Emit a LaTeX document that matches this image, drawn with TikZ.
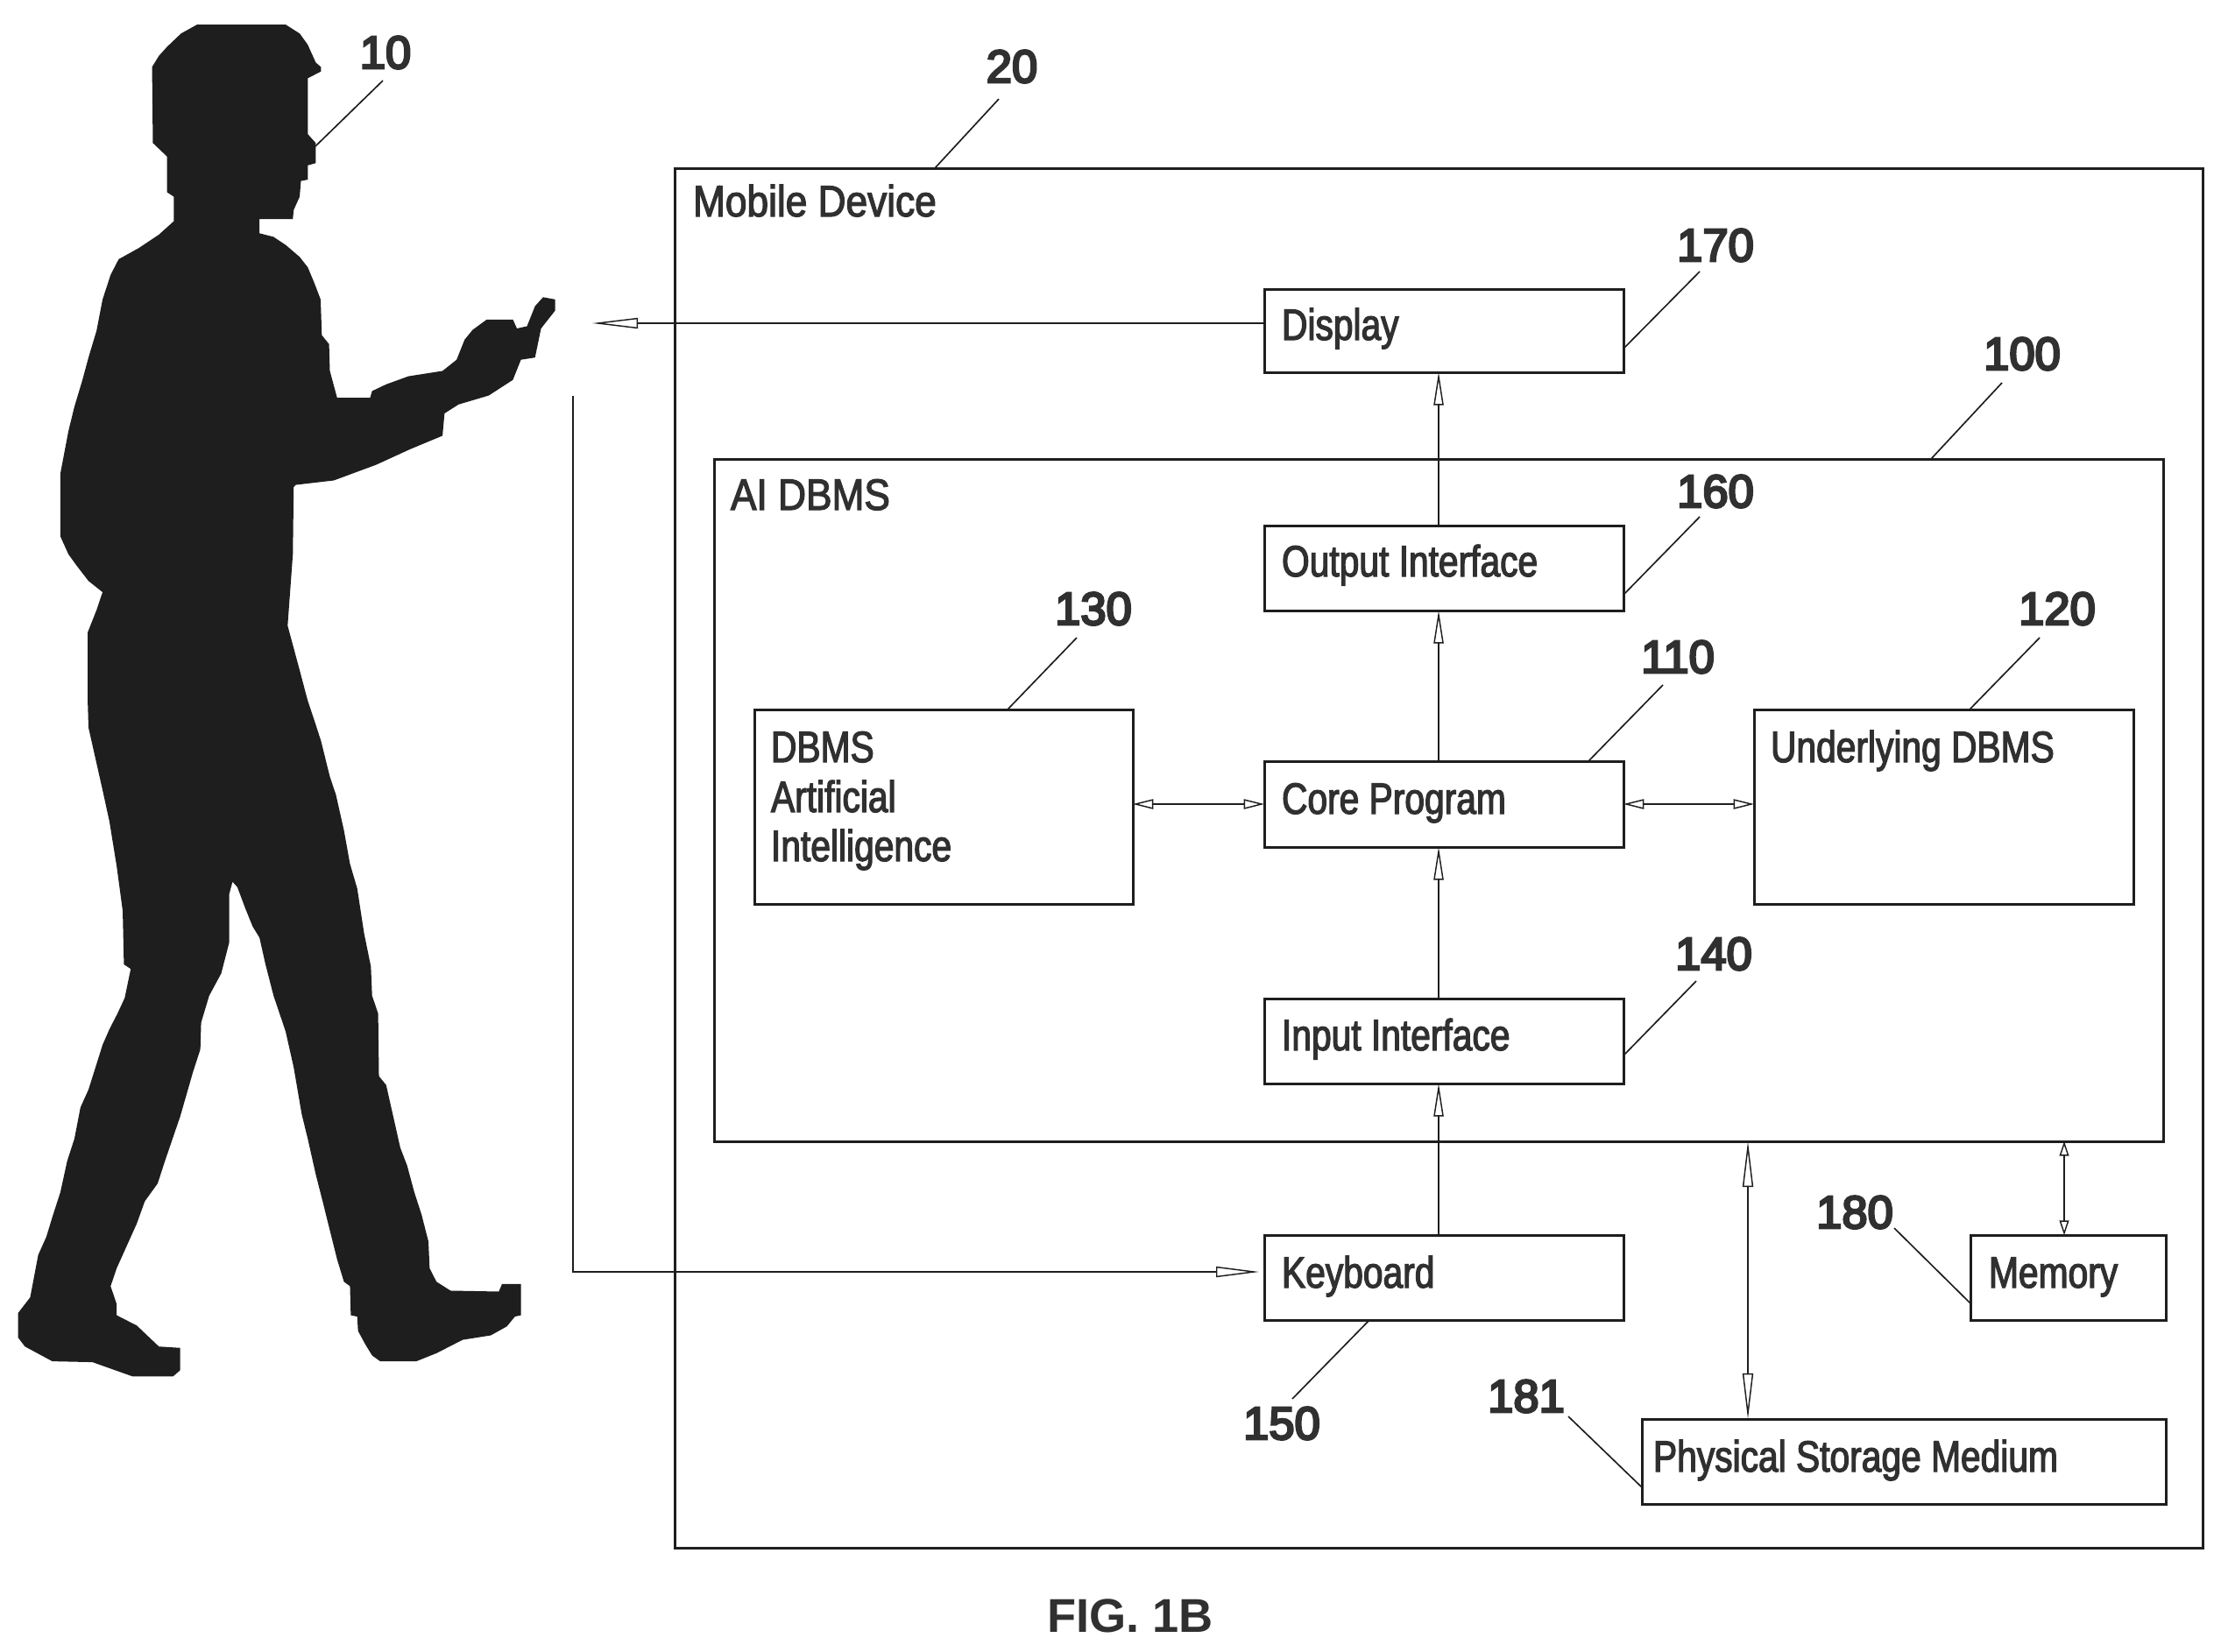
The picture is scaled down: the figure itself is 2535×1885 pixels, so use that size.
\documentclass[tikz,border=0pt]{standalone}
\usepackage{fontspec}
\setmainfont{Liberation Sans}
\newfontfamily\condfont[FakeStretch=0.815,FakeBold=2.5]{Liberation Sans}
\newfontfamily\widefont[FakeStretch=0.885,FakeBold=2.5]{Liberation Sans}
\newfontfamily\numfont[FakeBold=5]{Liberation Sans}
\usetikzlibrary{arrows.meta,calc}
\definecolor{ink}{HTML}{1E1E1E}
\definecolor{txt}{HTML}{303030}
\tikzset{
  boxst/.style={draw=ink,line width=0.72pt,fill=none,anchor=north west,inner sep=0pt,outer sep=0pt},
  lab/.style={anchor=base west,inner sep=0pt,outer sep=0pt,text=txt,font=\condfont\fontsize{12}{12}\selectfont},
  widelab/.style={lab,font=\widefont\fontsize{12}{12}\selectfont},
  num/.style={inner sep=0pt,outer sep=0pt,text=txt,font=\numfont\fontsize{12.6}{12.6}\selectfont},
  figlab/.style={inner sep=0pt,outer sep=0pt,text=txt,font=\bfseries\fontsize{13}{13}\selectfont},
  lead/.style={draw=ink,line width=0.4pt},
  conn/.style={draw=ink,line width=0.38pt},
  longtip/.tip={Triangle[open,fill=white,length=9pt,width=2.7pt,line width=0.35pt]},
  xltip/.tip={Triangle[open,fill=white,length=12.5pt,width=2.9pt,line width=0.35pt]},
  kbtip/.tip={Triangle[open,fill=white,length=11.8pt,width=2.9pt,line width=0.35pt]},
  shorttip/.tip={Triangle[open,fill=white,length=5.6pt,width=2.7pt,line width=0.35pt]},
  stubtip/.tip={Triangle[open,fill=white,length=4pt,width=2.6pt,line width=0.35pt]},
}
\newcommand{\mybox}[5]{\node[boxst,minimum width={(#4-#2)*0.24pt},minimum height={(#5-#3)*0.24pt}] (#1) at (#2,#3) {};}
\begin{document}
\begin{tikzpicture}[x=0.24pt,y=-0.24pt]
\useasboundingbox (0,0) rectangle (2535,1885);
\begin{scope}[x=0.1102pt,y=-0.12245pt]
\fill[ink] (490,55) -- (710,55) -- (745,75) -- (765,100) -- (785,140) -- (798,150) -- (798,160) -- (765,175) -- (765,300) -- (785,320) -- (785,365) -- (765,370) -- (765,402) -- (748,405) -- (745,440) -- (730,470) -- (728,490) -- (645,490) -- (645,522) -- (680,530) -- (710,548) -- (745,575) -- (765,598) -- (780,630) -- (797,670) -- (800,750) -- (818,770) -- (820,830) -- (838,890) -- (920,890) -- (925,875) -- (960,860) -- (1015,842) -- (1100,830) -- (1135,805) -- (1155,760) -- (1175,738) -- (1210,715) -- (1275,715) -- (1285,735) -- (1310,730) -- (1330,685) -- (1350,665) -- (1380,670) -- (1380,695) -- (1345,735) -- (1330,800) -- (1295,805) -- (1275,850) -- (1215,885) -- (1140,905) -- (1105,925) -- (1100,975) -- (1020,1005) -- (935,1040) -- (830,1075) -- (735,1085) -- (730,1090) -- (728,1240) -- (715,1400) -- (730,1450) -- (745,1500)
-- (765,1568) -- (780,1608) -- (798,1658) -- (820,1738) -- (835,1778) -- (855,1858) -- (870,1933) -- (888,1988) -- (905,2088) -- (922,2163) -- (925,2228) -- (940,2268) -- (942,2408) -- (960,2428) -- (975,2488) -- (995,2568) -- (1012,2608) -- (1030,2668) -- (1048,2718) -- (1065,2778) -- (1068,2838) -- (1085,2868) -- (1120,2888) -- (1240,2890) -- (1248,2873) -- (1295,2873) -- (1295,2943) -- (1280,2946) -- (1260,2968) -- (1220,2988) -- (1150,2998) -- (1085,3028) -- (1035,3046) -- (945,3046) -- (925,3033) -- (908,3008) -- (890,2978) -- (888,2946) -- (872,2943) -- (870,2878) -- (855,2868) -- (838,2818) -- (820,2753) -- (802,2688) -- (785,2628) -- (765,2548) -- (750,2493) -- (730,2388) -- (710,2308) -- (680,2228) -- (660,2158) -- (645,2098) -- (628,2073) -- (610,2033) -- (590,1985) -- (578,1973) -- (570,2000) -- (570,2108) -- (550,2178) -- (520,2228) -- (500,2288) -- (498,2348) -- (480,2398) -- (448,2498) -- (410,2598) -- (392,2648) -- (360,2688) -- (340,2738) -- (305,2808) -- (290,2838) -- (275,2878) -- (290,2918) -- (290,2943) -- (340,2966) -- (395,3013) -- (448,3016) -- (448,3066) -- (430,3080) -- (330,3080) -- (230,3048) -- (130,3046) -- (62,3013) -- (45,2993) -- (45,2938) -- (75,2903) -- (95,2808) -- (115,2768) -- (132,2718) -- (150,2668) -- (167,2598) -- (185,2548) -- (200,2478) -- (220,2438) -- (255,2338) -- (272,2303) -- (292,2268) -- (310,2233) -- (325,2168) -- (308,2158) -- (305,2038) -- (290,1938) -- (272,1838) -- (255,1768) -- (240,1708) -- (220,1628) -- (218,1568)
-- (218,1415) -- (240,1365) -- (255,1325) -- (220,1300) -- (190,1265) -- (170,1240) -- (150,1200) -- (150,1060) -- (170,965) -- (185,910) -- (205,850) -- (220,800) -- (240,740) -- (255,670) -- (275,615) -- (295,580) -- (345,555) -- (395,525) -- (432,495) -- (432,440) -- (415,430) -- (415,350) -- (380,320) -- (378,150) -- (395,125) -- (415,105) -- (450,75) -- cycle;
\end{scope}
% boxes
\mybox{mobile}{770}{192}{2514}{1767}
\mybox{aidbms}{815}{524}{2469}{1303}
\mybox{display}{1443}{330}{1853}{425}
\mybox{output}{1443}{600}{1853}{697}
\mybox{core}{1443}{869}{1853}{967}
\mybox{input}{1443}{1140}{1853}{1237}
\mybox{keyboard}{1443}{1410}{1853}{1507}
\mybox{dbmsai}{861}{810}{1293}{1032}
\mybox{under}{2002}{810}{2435}{1032}
\mybox{memory}{2249}{1410}{2472}{1507}
\mybox{storage}{1874}{1620}{2472}{1717}
% box texts
\node[widelab] (tmobile) at (791,247) {Mobile Device};
\node[widelab] (taidbms) at (834,582) {AI DBMS};
\node[lab] (tdisplay) at (1463,388) {Display};
\node[lab] (toutput) at (1463,658) {Output Interface};
\node[lab] (tcore) at (1463,929) {Core Program};
\node[lab] (tinput) at (1463,1199) {Input Interface};
\node[lab] (tkeyboard) at (1463,1470) {Keyboard};
\node[lab] (tdbms1) at (880,870) {DBMS};
\node[lab] (tdbms2) at (880,927) {Artificial};
\node[lab] (tdbms3) at (880,983) {Intelligence};
\node[lab] (tunder) at (2021,870) {Underlying DBMS};
\node[lab] (tmemory) at (2270,1470) {Memory};
\node[lab] (tstorage) at (1887,1680) {Physical Storage Medium};
% reference numbers
\node[num] (n10) at (440,60) {10};
\node[num] (n20) at (1155,76) {20};
\node[num] (n170) at (1958,280) {170};
\node[num] (n100) at (2308,404) {100};
\node[num] (n160) at (1958,561) {160};
\node[num] (n130) at (1248,695) {130};
\node[num] (n110) at (1915,750) {110};
\node[num] (n120) at (2348,695) {120};
\node[num] (n140) at (1956,1089) {140};
\node[num] (n150) at (1463,1625) {150};
\node[num] (n180) at (2117,1384) {180};
\node[num] (n181) at (1742,1594) {181};
\node[figlab] (fig) at (1290,1845) {FIG. 1B};
% leaders
\coordinate (l10a) at (437,92);   \coordinate (l10b) at (360,167);
\coordinate (l20a) at (1140,113); \coordinate (l20b) at (1067,192);
\coordinate (l170a) at (1940,310);\coordinate (l170b) at (1853,398);
\coordinate (l100a) at (2285,437);\coordinate (l100b) at (2204,524);
\coordinate (l160a) at (1940,590);\coordinate (l160b) at (1853,679);
\coordinate (l130a) at (1229,728);\coordinate (l130b) at (1150,810);
\coordinate (l110a) at (1898,782);\coordinate (l110b) at (1813,869);
\coordinate (l120a) at (2328,728);\coordinate (l120b) at (2248,810);
\coordinate (l140a) at (1936,1120);\coordinate (l140b) at (1853,1205);
\coordinate (l150a) at (1475,1597);\coordinate (l150b) at (1563,1507);
\coordinate (l180a) at (2162,1402);\coordinate (l180b) at (2249,1488);
\coordinate (l181a) at (1790,1617);\coordinate (l181b) at (1874,1698);
\foreach \k in {10,20,170,100,160,130,110,120,140,150,180,181}{\draw[lead] (l\k a) -- (l\k b);}
% connectors
\coordinate (cx) at (1642,0);
\coordinate (sx) at (1995,0);
\coordinate (mx) at (2356,0);
\coordinate (tip) at (676,369);
\coordinate (start) at (654,452);
\coordinate (kby) at (0,1452);
\draw[conn,xltip-] (tip) -- (display.west |- tip);
\draw[conn,-kbtip,shorten >=1.4pt] (start) |- (keyboard.west |- kby);
\draw[conn,longtip-] (display.south -| cx) -- (output.north -| cx);
\draw[conn,longtip-] (output.south -| cx) -- (core.north -| cx);
\draw[conn,longtip-] (core.south -| cx) -- (input.north -| cx);
\draw[conn,longtip-] (input.south -| cx) -- (keyboard.north -| cx);
\draw[conn,shorttip-shorttip] (dbmsai.east |- core.west) -- (core.west);
\draw[conn,shorttip-shorttip] (core.east) -- (under.west |- core.east);
\draw[conn,xltip-xltip] (aidbms.south -| sx) -- (storage.north -| sx);
\draw[conn,stubtip-stubtip] (aidbms.south -| mx) -- (memory.north -| mx);
\end{tikzpicture}
\end{document}
